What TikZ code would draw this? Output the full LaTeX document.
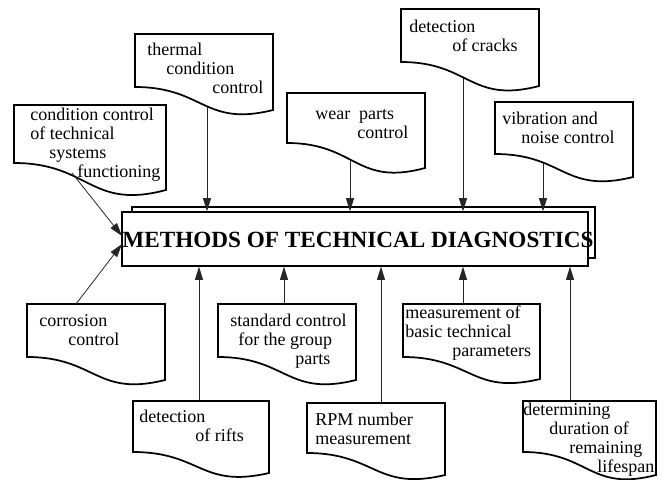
\documentclass[tikz,border=0pt]{standalone}
\usepackage{fontspec}
\setmainfont{Liberation Serif}
\usetikzlibrary{arrows.meta}
\tikzset{
  docline/.style={line width=1.3pt, fill=white, line join=miter},
  doctext/.style={font=\fontsize{13.5}{14.25}\selectfont, align=left, anchor=north west, inner sep=0pt},
  arr/.style={draw=black!85, line width=0.6pt, -{Triangle[length=10pt,width=6pt]}},
  mainbox/.style={draw, line width=0.9pt, fill=white, inner sep=0pt},
}
% name, xl, yt, xr, yL, yR, textx, texttop, text
\newcommand\docbox[9]{%
  \draw[docline] (#2,#5) -- (#2,#3) -- (#4,#3) -- (#4,#6)
    .. controls ({(#2+#4)/2},{#5+1.75*(#6-#5)}) and ({(#2+#4)/2},#5) .. (#2,#5) -- cycle;
  \node[doctext] (#1) at (#7,#8) {\strut#9};
}
\begin{document}
\begin{tikzpicture}[x=0.75pt,y=-0.75pt]
\useasboundingbox (0,0) rectangle (664,479);
% main box
\node[mainbox, minimum width=347.25pt, minimum height=38.25pt] (mainback) at (363.5,232.5) {};
\node[mainbox, minimum width=349.5pt, minimum height=40.5pt] (main) at (355,239) {};
\node[font=\fontsize{17.4}{20}\selectfont\bfseries, inner sep=0pt, anchor=base] (title) at (358,247) {METHODS OF TECHNICAL DIAGNOSTICS};
% connector end points
\coordinate (B-o) at (207,100);
\coordinate (C-o) at (350,150);
\coordinate (D-o) at (463,70);
\coordinate (E-o) at (543,160);
\coordinate (G-o) at (284,304);
\coordinate (H-o) at (199,401);
\coordinate (I-o) at (381,403);
\coordinate (J-o) at (463,304);
\coordinate (K-o) at (570,401);
\coordinate (A-o) at (72,173);
\coordinate (F-o) at (76,304);
\coordinate (inA) at (122,236);
\coordinate (inF) at (122,244);
% connectors
\draw[arr] (B-o) -- (B-o |- main.north);
\draw[arr] (C-o) -- (C-o |- main.north);
\draw[arr] (D-o) -- (D-o |- main.north);
\draw[arr] (E-o) -- (E-o |- main.north);
\draw[arr] (G-o) -- (G-o |- main.south);
\draw[arr] (H-o) -- (H-o |- main.south);
\draw[arr] (I-o) -- (I-o |- main.south);
\draw[arr] (J-o) -- (J-o |- main.south);
\draw[arr] (K-o) -- (K-o |- main.south);
% document boxes
\docbox{A}{14}{105}{166}{163}{190}{30}{106.7}{condition control\\of technical\\\hspace*{14.25pt}systems\\\hspace*{35.25pt}functioning}
\docbox{B}{135}{34}{273}{87}{110}{147}{41.7}{thermal\\\hspace*{14.25pt}condition\\\hspace*{48.75pt}control}
\docbox{C}{287}{93}{425}{143}{168}{315}{105.7}{wear\ \ parts\\\hspace*{31.5pt}control}
\docbox{D}{401}{9}{539}{62}{86}{409}{18.7}{detection\\\hspace*{32.25pt}of cracks}
\docbox{E}{495}{102}{633}{154}{177}{502}{110.7}{vibration and\\\hspace*{14.25pt}noise control}
\docbox{F}{27}{304}{165}{357}{380}{39}{312.7}{corrosion\\\hspace*{21.75pt}control}
\docbox{G}{218}{304}{356}{357}{380}{230}{312.7}{standard control\\\hspace*{6pt}for the group\\\hspace*{48.75pt}parts}
\docbox{H}{133}{401}{269}{452}{473}{139}{408.7}{detection\\\hspace*{42pt}of rifts}
\docbox{I}{307}{403}{445}{453}{475}{315}{411.7}{RPM number\\measurement}
\docbox{J}{403}{304}{540}{357}{379}{405}{304.7}{measurement of\\basic technical\\\hspace*{35.25pt}parameters}
\docbox{K}{523}{401}{656}{452}{475}{523}{401.7}{determining\\\hspace*{19.5pt}duration of\\\hspace*{34.5pt}remaining\\\hspace*{55.5pt}lifespan}
% side connectors
\draw[arr] (A-o) -- (inA);
\draw[arr] (F-o) -- (inF);
\end{tikzpicture}
\end{document}
